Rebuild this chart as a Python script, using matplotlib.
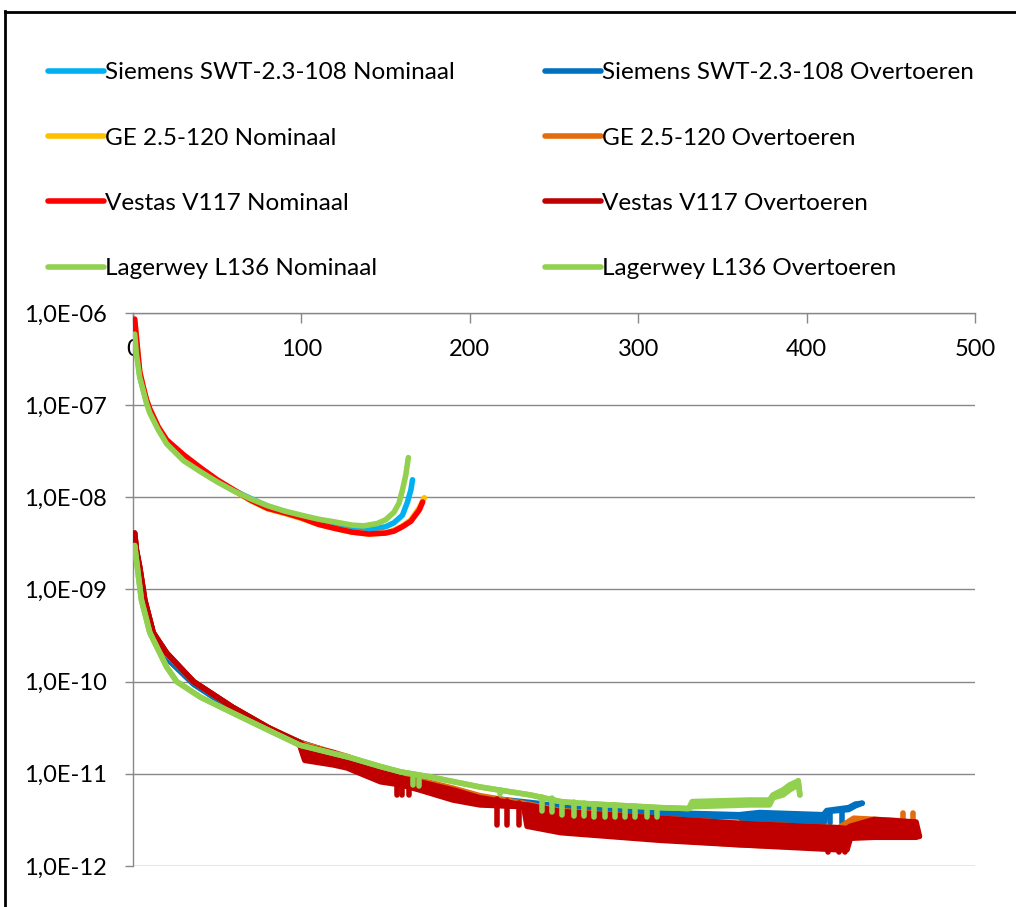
import numpy as np
import matplotlib.pyplot as plt
from matplotlib.lines import Line2D
from matplotlib.ticker import FixedLocator, FuncFormatter, NullLocator

plt.rcParams['font.family'] = ['Lato', 'DejaVu Sans']

# ---- Nominaal series (upper group) ----
siemens_nom_x = [1, 2, 4, 6, 8, 10, 15, 20, 30, 40, 50, 60, 70, 80, 90, 100, 110, 120, 130, 139, 150, 155, 160, 163, 165, 166]
siemens_nom_y = [7.0e-7, 4.4e-7, 2.1e-7, 1.5e-7, 1.1e-7, 8.6e-8, 5.6e-8, 4.0e-8, 2.7e-8, 2.0e-8, 1.5e-8, 1.18e-8, 9.7e-9,
                 8.0e-9, 7.0e-9, 6.2e-9, 5.5e-9, 5.0e-9, 4.6e-9, 4.4e-9, 4.8e-9, 5.3e-9, 6.4e-9, 8.9e-9, 1.2e-8, 1.55e-8]

ge_nom_x = [1, 2, 4, 6, 8, 10, 15, 20, 30, 40, 50, 60, 70, 80, 90, 100, 110, 120, 130, 140, 150, 155, 160, 165, 170, 173]
ge_nom_y = [8.4e-7, 5.3e-7, 2.3e-7, 1.6e-7, 1.12e-7, 9.0e-8, 5.7e-8, 4.1e-8, 2.85e-8, 2.05e-8, 1.52e-8, 1.18e-8, 9.2e-9,
            7.5e-9, 6.7e-9, 5.9e-9, 5.1e-9, 4.6e-9, 4.2e-9, 4.0e-9, 4.1e-9, 4.4e-9, 4.9e-9, 5.7e-9, 7.7e-9, 9.9e-9]

vestas_nom_x = [1, 2, 4, 6, 8, 10, 15, 20, 30, 40, 50, 60, 70, 80, 90, 100, 110, 120, 130, 140, 150, 155, 160, 165, 170, 172]
vestas_nom_y = [8.6e-7, 5.5e-7, 2.3e-7, 1.6e-7, 1.15e-7, 9.1e-8, 5.8e-8, 4.2e-8, 2.9e-8, 2.1e-8, 1.55e-8, 1.2e-8, 9.3e-9,
                7.6e-9, 6.8e-9, 6.0e-9, 5.1e-9, 4.6e-9, 4.2e-9, 4.0e-9, 4.1e-9, 4.3e-9, 4.8e-9, 5.5e-9, 7.3e-9, 8.9e-9]

lagerwey_nom_x = [1, 2, 4, 6, 8, 10, 15, 20, 30, 40, 50, 60, 70, 80, 90, 100, 110, 120, 130, 137, 145, 150, 155, 158, 160, 162, 163.5]
lagerwey_nom_y = [5.9e-7, 3.6e-7, 2.0e-7, 1.46e-7, 1.05e-7, 8.2e-8, 5.4e-8, 3.8e-8, 2.5e-8, 1.9e-8, 1.47e-8, 1.17e-8, 9.6e-9,
                  8.1e-9, 7.1e-9, 6.4e-9, 5.8e-9, 5.4e-9, 5.0e-9, 4.9e-9, 5.2e-9, 5.7e-9, 6.9e-9, 8.7e-9, 1.2e-8, 1.75e-8, 2.7e-8]

# ---- Overtoeren series (lower group): upper / lower edge of the jittery band ----
siemens_over_x = [1, 2, 4, 7, 12, 20, 36, 59, 80, 99, 127, 147, 170, 206, 240, 254, 313, 360, 366, 372, 410, 412, 425, 429, 433]
siemens_over_hi = [3.6e-9, 2.5e-9, 1.55e-9, 7.1e-10, 3.1e-10, 1.8e-10, 9.4e-11, 5.0e-11, 3.1e-11, 2.2e-11, 1.5e-11, 1.0e-11, 8.2e-12,
                   5.6e-12, 4.8e-12, 4.4e-12, 3.8e-12, 3.6e-12, 3.7e-12, 3.8e-12, 3.6e-12, 4.0e-12, 4.3e-12, 4.7e-12, 4.8e-12]
siemens_over_lo = [3.6e-9, 2.5e-9, 1.55e-9, 7.1e-10, 3.1e-10, 1.8e-10, 9.4e-11, 5.0e-11, 3.1e-11, 2.2e-11, 1.5e-11, 1.0e-11, 8.2e-12,
                   5.0e-12, 4.4e-12, 4.2e-12, 3.6e-12, 3.4e-12, 2.8e-12, 2.8e-12, 2.75e-12, 3.9e-12, 4.1e-12, 4.5e-12, 4.8e-12]
siemens_dip_x = [365, 371, 414, 421]
siemens_dip_top = [3.6e-12, 3.7e-12, 4.0e-12, 4.1e-12]
siemens_dip_bot = [2.8e-12, 2.8e-12, 2.9e-12, 2.9e-12]

ge_over_x = [1, 2, 4, 7, 12, 20, 36, 59, 80, 99, 102, 127, 147, 159, 170, 190, 206, 232, 254, 313, 360, 419, 428, 455, 464]
ge_over_hi = [4.0e-9, 2.65e-9, 1.7e-9, 7.6e-10, 3.4e-10, 2.0e-10, 1.0e-10, 5.3e-11, 3.2e-11, 2.2e-11, 2.1e-11, 1.55e-11, 1.15e-11,
              9.3e-12, 8.6e-12, 7.0e-12, 5.8e-12, 4.8e-12, 4.0e-12, 3.3e-12, 2.9e-12, 2.6e-12, 3.3e-12, 3.1e-12, 2.3e-12]
ge_over_lo = [4.0e-9, 2.65e-9, 1.7e-9, 7.6e-10, 3.4e-10, 2.0e-10, 1.0e-10, 5.3e-11, 3.2e-11, 2.1e-11, 1.45e-11, 1.2e-11, 8.4e-12,
              7.7e-12, 6.8e-12, 5.3e-12, 4.7e-12, 4.4e-12, 2.4e-12, 1.95e-12, 1.7e-12, 1.55e-12, 2.1e-12, 2.1e-12, 2.3e-12]
ge_dip_x = [457, 463]
ge_dip_top = [3.8e-12, 3.8e-12]
ge_dip_bot = [3.0e-12, 3.0e-12]

vestas_over_x = [1, 2, 4, 7, 12, 20, 36, 59, 80, 99, 102, 119, 127, 147, 159, 170, 190, 206, 232, 234, 254, 313, 360, 419, 424, 426, 440, 465, 467]
vestas_over_hi = [4.1e-9, 2.7e-9, 1.75e-9, 7.7e-10, 3.4e-10, 2.05e-10, 1.0e-10, 5.3e-11, 3.2e-11, 2.2e-11, 2.0e-11, 1.7e-11, 1.5e-11,
                  1.1e-11, 9.0e-12, 8.2e-12, 6.7e-12, 5.5e-12, 4.6e-12, 4.6e-12, 3.9e-12, 3.3e-12, 2.9e-12, 2.6e-12, 2.55e-12,
                  2.7e-12, 3.2e-12, 3.0e-12, 2.1e-12]
vestas_over_lo = [4.1e-9, 2.7e-9, 1.75e-9, 7.7e-10, 3.4e-10, 2.05e-10, 1.0e-10, 5.3e-11, 3.2e-11, 2.05e-11, 1.4e-11, 1.25e-11, 1.16e-11,
                  8.2e-12, 7.6e-12, 6.7e-12, 5.2e-12, 4.6e-12, 4.4e-12, 2.7e-12, 2.3e-12, 1.9e-12, 1.7e-12, 1.5e-12, 1.5e-12,
                  2.0e-12, 2.05e-12, 2.05e-12, 2.1e-12]
vestas_dip_x = [157, 160, 164, 216, 222, 229, 413, 419, 423]
vestas_dip_top = [9.2e-12, 9.0e-12, 8.6e-12, 5.3e-12, 5.1e-12, 4.8e-12, 2.6e-12, 2.6e-12, 2.55e-12]
vestas_dip_bot = [5.9e-12, 5.9e-12, 5.9e-12, 2.8e-12, 2.8e-12, 2.8e-12, 1.42e-12, 1.42e-12, 1.42e-12]

lagerwey_over_x = [1, 2, 5, 10, 20, 26, 40, 59, 80, 99, 129, 147, 159, 176, 206, 236, 254, 265, 313, 330, 332, 366, 378, 380, 386, 390, 394, 395, 396]
lagerwey_over_hi = [3.0e-9, 2.1e-9, 7.7e-10, 3.4e-10, 1.44e-10, 1.0e-10, 6.8e-11, 4.6e-11, 3.0e-11, 2.05e-11, 1.5e-11, 1.2e-11,
                    1.05e-11, 9.3e-12, 7.2e-12, 5.9e-12, 5.0e-12, 4.8e-12, 4.3e-12, 4.2e-12, 5.0e-12, 5.2e-12, 5.2e-12, 5.9e-12,
                    6.7e-12, 7.6e-12, 8.2e-12, 8.4e-12, 5.9e-12]
lagerwey_over_lo = [3.0e-9, 2.1e-9, 7.7e-10, 3.4e-10, 1.44e-10, 1.0e-10, 6.8e-11, 4.6e-11, 3.0e-11, 2.05e-11, 1.5e-11, 1.2e-11,
                    1.05e-11, 9.3e-12, 7.2e-12, 5.9e-12, 5.0e-12, 4.8e-12, 4.3e-12, 4.2e-12, 4.4e-12, 4.6e-12, 4.6e-12, 5.5e-12,
                    5.9e-12, 6.7e-12, 7.4e-12, 8.4e-12, 5.9e-12]
lagerwey_dip_x = [166, 170, 218, 243, 249, 255, 262, 268, 274, 280, 286, 292, 298, 305, 311]
lagerwey_dip_top = [9.0e-12, 8.8e-12, 6.6e-12, 5.6e-12, 5.4e-12, 5.0e-12, 4.9e-12, 4.8e-12, 4.7e-12, 4.6e-12, 4.55e-12, 4.5e-12, 4.45e-12, 4.4e-12, 4.3e-12]
lagerwey_dip_bot = [7.6e-12, 7.4e-12, 6.0e-12, 4.0e-12, 3.9e-12, 3.6e-12, 3.5e-12, 3.5e-12, 3.4e-12, 3.4e-12, 3.4e-12, 3.4e-12, 3.4e-12, 3.4e-12, 3.4e-12]

y_ticks = [1e-12, 1e-11, 1e-10, 1e-9, 1e-8, 1e-7, 1e-6]
x_ticks = [0, 100, 200, 300, 400, 500]

c_sie_nom, c_sie_over = '#00B0F0', '#0070C0'
c_ge_nom, c_ge_over = '#FFC000', '#E46C0A'
c_ves_nom, c_ves_over = '#FF0000', '#C00000'
c_lag = '#92D050'
grid_col = '#888888'
LW = 4

fig = plt.figure(figsize=(10.16, 9.07), dpi=100)
ax = fig.add_axes([133 / 1016, 41 / 907, 842 / 1016, 553 / 907])


def nominal(x, y, color, label, z):
    line, = ax.plot(x, y, color=color, lw=LW, solid_capstyle='round', solid_joinstyle='round',
                    label=label, zorder=z)
    return line


def overtoeren(x, hi, lo, dx, dtop, dbot, color, label, z):
    ax.fill_between(x, lo, hi, color=color, lw=0, zorder=z)
    line, = ax.plot(x, hi, color=color, lw=LW, solid_capstyle='round', solid_joinstyle='round',
                    label=label, zorder=z)
    ax.plot(x, lo, color=color, lw=LW, solid_capstyle='round', solid_joinstyle='round', zorder=z)
    if dx:
        vl = ax.vlines(dx, dbot, dtop, color=color, lw=LW, zorder=z)
        vl.set_capstyle('round')
    return line


h = {}
h['sn'] = nominal(siemens_nom_x, siemens_nom_y, c_sie_nom, 'Siemens SWT-2.3-108 Nominaal', 2)
h['so'] = overtoeren(siemens_over_x, siemens_over_hi, siemens_over_lo, siemens_dip_x, siemens_dip_top, siemens_dip_bot,
                     c_sie_over, 'Siemens SWT-2.3-108 Overtoeren', 3)
h['gn'] = nominal(ge_nom_x, ge_nom_y, c_ge_nom, 'GE 2.5-120 Nominaal', 4)
h['go'] = overtoeren(ge_over_x, ge_over_hi, ge_over_lo, ge_dip_x, ge_dip_top, ge_dip_bot,
                     c_ge_over, 'GE 2.5-120 Overtoeren', 5)
h['vn'] = nominal(vestas_nom_x, vestas_nom_y, c_ves_nom, 'Vestas V117 Nominaal', 6)
h['vo'] = overtoeren(vestas_over_x, vestas_over_hi, vestas_over_lo, vestas_dip_x, vestas_dip_top, vestas_dip_bot,
                     c_ves_over, 'Vestas V117 Overtoeren', 7)
h['ln'] = nominal(lagerwey_nom_x, lagerwey_nom_y, c_lag, 'Lagerwey L136 Nominaal', 8)
h['lo'] = overtoeren(lagerwey_over_x, lagerwey_over_hi, lagerwey_over_lo, lagerwey_dip_x, lagerwey_dip_top, lagerwey_dip_bot,
                     c_lag, 'Lagerwey L136 Overtoeren', 9)

ax.set_yscale('log')
ax.set_ylim(1e-12, 1e-6)
ax.set_xlim(0, 500)

ax.yaxis.set_major_locator(FixedLocator(y_ticks))
ax.yaxis.set_minor_locator(NullLocator())
ax.yaxis.set_major_formatter(FuncFormatter(lambda v, p: '1,0E-%02d' % round(-np.log10(v))))
ax.xaxis.set_major_locator(FixedLocator(x_ticks))
ax.xaxis.set_minor_locator(NullLocator())

ax.tick_params(axis='y', direction='out', length=6, width=1, color=grid_col, pad=13, labelsize=17)
ax.tick_params(axis='x', top=True, bottom=False, labeltop=True, labelbottom=False,
               direction='in', length=7, width=1, color=grid_col, pad=-34, labelsize=17)

ax.yaxis.grid(True, color=grid_col, lw=1)
ax.set_axisbelow(True)
for s in ['right', 'bottom']:
    ax.spines[s].set_visible(False)
for s in ['top', 'left']:
    ax.spines[s].set_color(grid_col)
    ax.spines[s].set_linewidth(1)

# legend in two columns
leg_kw = dict(loc='upper left', frameon=False, fontsize=17.5, handlelength=2.3, handletextpad=0.05,
              labelspacing=1.83, borderpad=0, borderaxespad=0)
fig.legend([h['sn'], h['gn'], h['vn'], h['ln']],
           [l.get_label() for l in (h['sn'], h['gn'], h['vn'], h['ln'])],
           bbox_to_anchor=(48 / 1016, (907 - 62) / 907), **leg_kw)
fig.legend([h['so'], h['go'], h['vo'], h['lo']],
           [l.get_label() for l in (h['so'], h['go'], h['vo'], h['lo'])],
           bbox_to_anchor=(545 / 1016, (907 - 62) / 907), **leg_kw)

# chart frame
fig.add_artist(Line2D([5 / 1016, 5 / 1016], [0, (907 - 11) / 907], transform=fig.transFigure, color='black', lw=2))
fig.add_artist(Line2D([5 / 1016, 1], [(907 - 12) / 907] * 2, transform=fig.transFigure, color='black', lw=2))

fig.savefig('out.png', dpi=100)
